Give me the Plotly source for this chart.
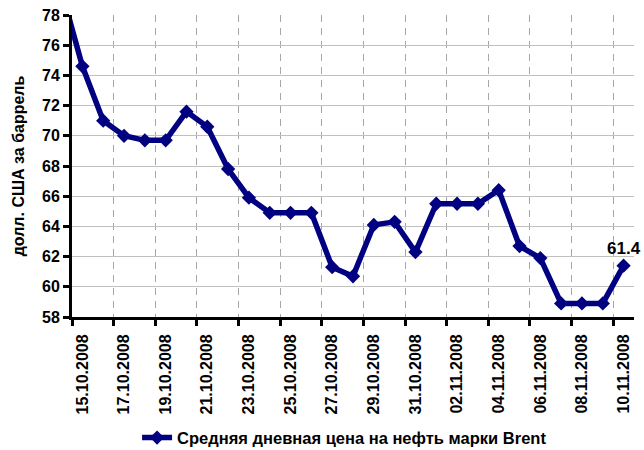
import plotly.graph_objects as go

dates = ["14.10.2008", "15.10.2008", "16.10.2008", "17.10.2008", "18.10.2008",
         "19.10.2008", "20.10.2008", "21.10.2008", "22.10.2008", "23.10.2008",
         "24.10.2008", "25.10.2008", "26.10.2008", "27.10.2008", "28.10.2008",
         "29.10.2008", "30.10.2008", "31.10.2008", "01.11.2008", "02.11.2008",
         "03.11.2008", "04.11.2008", "05.11.2008", "06.11.2008", "07.11.2008",
         "08.11.2008", "09.11.2008", "10.11.2008"]
prices = [79.6, 74.6, 71.0, 70.0, 69.7, 69.7, 71.6, 70.6, 67.8, 65.9,
          64.9, 64.9, 64.9, 61.3, 60.7, 64.1, 64.3, 62.3, 65.5, 65.5,
          65.5, 66.4, 62.7, 61.9, 58.9, 58.9, 58.9, 61.4]
series_name = "Средняя дневная цена на нефть марки Brent"
y_title = "долл. США за баррель"

x_idx = list(range(len(dates)))
label_idx = [i for i in x_idx if i % 2 == 1]
label_text = [dates[i] for i in label_idx]
boundary_idx = [i - 0.5 for i in label_idx]
point_text = [""] * (len(prices) - 1) + [f"{prices[-1]:.1f}"]

FONT = "Arial, 'Liberation Sans', sans-serif"
NAVY = "#000080"

fig = go.Figure()
fig.add_trace(go.Scatter(
    x=x_idx, y=prices, mode="lines+markers+text",
    name=series_name,
    line=dict(color=NAVY, width=5.5),
    marker=dict(symbol="diamond", size=11, color=NAVY),
    text=point_text, textposition="top center",
    textfont=dict(family=FONT, size=17, color="black", weight="bold"),
    cliponaxis=False,
))

fig.update_layout(
    width=644, height=450,
    margin=dict(l=72, r=10, t=15, b=133, autoexpand=False),
    paper_bgcolor="white", plot_bgcolor="white",
    font=dict(family=FONT, color="black"),
    showlegend=True,
    legend=dict(orientation="h", x=0.485, xanchor="center", y=-0.4, yanchor="middle",
                font=dict(family=FONT, size=16.5, color="black", weight="bold"),
                bgcolor="rgba(0,0,0,0)"),
)

fig.update_xaxes(
    range=[0.5, len(dates) - 0.5], automargin=False,
    tickmode="array", tickvals=label_idx, ticktext=label_text,
    tickangle=-90, ticks="outside", ticklen=8, tickcolor="rgba(0,0,0,0)",
    tickfont=dict(family=FONT, size=16, color="black", weight="bold"),
    showgrid=False, zeroline=False,
    showline=True, linecolor="black", linewidth=3,
    minor=dict(tickmode="array", tickvals=boundary_idx, ticks="outside",
               ticklen=6, tickwidth=3, tickcolor="black",
               showgrid=True, gridcolor="#a6a6a6", gridwidth=1, griddash="7px,6px"),
)

fig.update_yaxes(
    range=[58, 78], tickmode="linear", tick0=58, dtick=2, automargin=False,
    ticks="outside", ticklen=6, tickwidth=3, tickcolor="black",
    tickfont=dict(family=FONT, size=16, color="black", weight="bold"),
    showgrid=True, gridcolor="#c0c0c0", gridwidth=1, zeroline=False,
    showline=True, linecolor="black", linewidth=3,
    title=dict(text=y_title, standoff=14,
               font=dict(family=FONT, size=16, color="black", weight="bold")),
)

fig.write_html("out.html", config={"displayModeBar": False},
               post_script="document.body.style.margin='0px';")
